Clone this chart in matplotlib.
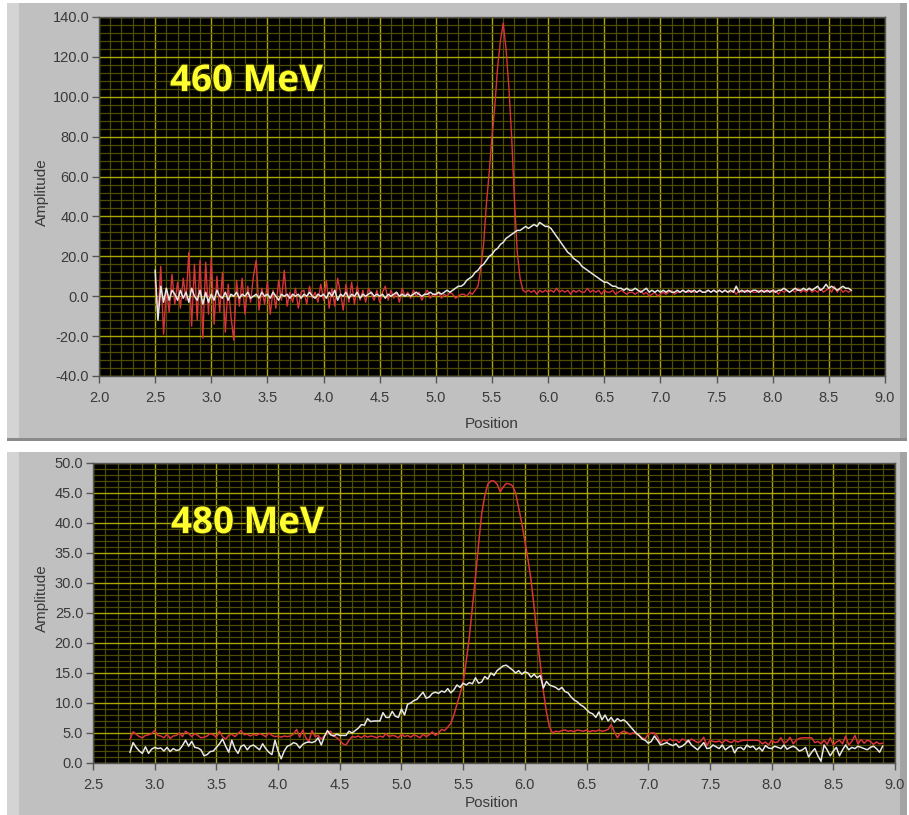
import numpy as np
import matplotlib
matplotlib.use("Agg")
import matplotlib.pyplot as plt
import matplotlib.patheffects as pe
from matplotlib.patches import Rectangle
from matplotlib.ticker import MultipleLocator, FormatStrFormatter

W, H = 909, 815

# ─────────────────────────────────────────────────────────────────────────────
# DATA  (uniform sampling in position)
# ─────────────────────────────────────────────────────────────────────────────

TOP_X0, TOP_DX = 2.5, 0.025          # 2.500 … 8.700
TOP_RED = [
    8, -10, 15, -19, 4, -8, 11, -4, 7, -6,
    9, -2, 22, -15, 16, -12, 18, -21, 17, -9,
    19, -14, 10, -8, 12, -18, 6, -10, -22, 8,
    -5, 9, -9, 5, -3, 10, 18, -7, 4, -4,
    7, -9, 3, -6, 8, -2, 13, -5, 2, -3,
    4, -6, 2, 3, -4, 5, -1, 2, -3, 6,
    -2, 8, -6, 4, -5, 9, 2, -7, 6, -3,
    7, -4, 5, -2, 3, -3, 4, 1, -2, 3,
    -3, 2, 5, -2, 3, -1, 2, -3, 4, 0,
    2, -1, 3, 0, 2, -2, 1, 3, -1, 1,
    0, 2, -1, 1, 0, 2, 1, -1, 0, 1,
    1, 0, 2, 1, 3, 5, 14, 26, 46, 62,
    80, 95, 115, 128, 137, 124, 105, 80, 48, 22,
    9, 3, 2, 3, 2, 3, 1, 3, 2, 3,
    2, 3, 2, 4, 2, 3, 2, 3, 1, 3,
    2, 3, 2, 2, 4, 2, 3, 2, 3, 1,
    3, 2, 2, 3, 1, 2, 3, 2, 1, 2,
    2, 1, 2, 3, 1, 2, 0, 1, 2, 0,
    1, 2, 1, 2, 3, 1, 2, 2, 3, 2,
    2, 3, 2, 2, 3, 2, 2, 3, 2, 3,
    2, 3, 2, 3, 2, 2, 3, 1, 3, 2,
    3, 2, 3, 2, 2, 3, 2, 3, 2, 3,
    2, 3, 1, 3, 2, 3, 2, 3, 2, 4,
    2, 3, 2, 4, 2, 3, 2, 4, 2, 3,
    4, 2, 5, 2, 4, 2, 3, 2, 3,
]
TOP_WHITE = [
    13, -12, 5, -3, 4, -2, 3, 1, -2, 3,
    -1, 2, -3, 4, 0, -2, 3, -4, 2, -3,
    1, -2, 3, 0, -1, 2, -2, 1, 0, 2,
    -1, 1, 0, 2, -1, 0, 1, -1, 2, 0,
    1, -1, 2, 0, -2, 1, 0, 1, -1, 1,
    0, 1, -1, 1, 0, 2, 0, -1, 1, 0,
    1, -1, 2, 0, 3, -2, 1, 0, 2, -1,
    1, 0, 2, -1, 1, 0, 1, 2, 0, 1,
    0, 1, -1, 1, 0, 1, 2, 0, 1, 0,
    1, 0, 1, 2, 1, 0, 1, 1, 2, 1,
    1, 2, 1, 2, 3, 2, 3, 4, 5, 5,
    6, 8, 9, 10, 12, 13, 15, 16, 18, 20,
    21, 23, 24, 26, 27, 29, 30, 31, 32, 33,
    33, 34, 35, 34, 35, 36, 35, 37, 36, 35,
    35, 34, 32, 30, 28, 26, 24, 22, 21, 19,
    18, 17, 15, 14, 13, 12, 11, 10, 9, 8,
    7, 7, 6, 5, 5, 4, 4, 3, 4, 3,
    3, 4, 3, 2, 3, 4, 2, 3, 2, 3,
    2, 3, 2, 3, 2, 2, 3, 2, 3, 2,
    3, 2, 3, 2, 3, 2, 2, 3, 2, 3,
    2, 3, 2, 3, 2, 3, 2, 5, 2, 3,
    2, 3, 2, 3, 3, 2, 3, 2, 3, 2,
    3, 2, 3, 3, 4, 3, 2, 3, 4, 3,
    3, 4, 3, 4, 3, 4, 5, 3, 4, 6,
    4, 5, 4, 3, 4, 5, 4, 4, 3,
]

BOT_X0, BOT_DX = 2.8, 0.025          # 2.800 … 8.900
BOT_RED = [
    4.0, 5.2, 4.8, 4.4, 4.2, 4.6, 4.7, 4.9, 5.4, 4.6,
    4.5, 4.2, 4.8, 4.1, 4.5, 4.6, 5.0, 4.4, 5.3, 4.9,
    4.4, 4.9, 4.6, 4.2, 4.3, 4.5, 4.9, 4.7, 4.3, 5.3,
    4.4, 4.0, 4.6, 4.8, 4.4, 4.9, 5.4, 4.7, 4.8, 4.5,
    4.8, 4.6, 4.9, 4.7, 4.4, 5.0, 4.6, 4.4, 4.5, 4.3,
    4.5, 4.4, 4.5, 4.8, 5.6, 4.3, 5.5, 4.2, 3.6, 5.4,
    4.4, 4.6, 4.0, 4.5, 5.0, 5.3, 4.6, 4.2, 3.8, 3.2,
    3.0, 3.8, 4.4, 4.3, 4.5, 4.2, 4.6, 4.3, 4.5, 4.4,
    4.2, 4.5, 4.3, 4.9, 4.4, 4.6, 4.5, 4.2, 4.8, 4.4,
    4.6, 4.3, 4.7, 4.5, 4.2, 4.8, 4.4, 4.7, 5.2, 4.6,
    5.0, 5.6, 5.4, 6.0, 6.6, 8.0, 9.8, 11.5, 13.5, 17.0,
    21.0, 26.0, 31.0, 36.5, 41.5, 44.5, 46.5, 47.0, 47.0, 46.5,
    45.2, 46.0, 46.6, 46.5, 46.2, 45.0, 42.5, 40.0, 37.0, 34.0,
    30.5, 26.0, 21.0, 16.5, 12.0, 8.5, 6.0, 5.0, 5.3, 5.2,
    5.4, 5.5, 5.3, 5.4, 5.2, 5.5, 5.4, 5.3, 5.5, 5.2,
    5.4, 5.3, 5.5, 5.3, 5.4, 5.6, 6.4, 5.2, 4.2, 5.0,
    5.3, 5.1, 4.8, 5.0, 4.9, 4.6, 4.2, 4.0, 4.8, 5.0,
    5.0, 4.4, 3.4, 3.9, 3.6, 4.0, 3.7, 3.9, 3.4, 4.0,
    3.8, 3.5, 4.0, 3.7, 3.4, 3.6, 4.3, 2.9, 3.8, 3.6,
    3.5, 3.7, 3.3, 3.9, 3.6, 3.4, 3.8, 3.5, 3.7, 3.8,
    3.8, 3.8, 3.8, 3.8, 3.7, 3.2, 3.5, 3.0, 3.8, 3.4,
    3.5, 4.2, 3.3, 3.6, 4.3, 3.2, 3.8, 4.1, 4.2, 4.2,
    4.2, 4.2, 3.4, 3.6, 3.2, 3.8, 3.1, 4.2, 3.0, 3.5,
    3.8, 3.2, 4.5, 3.0, 3.6, 4.6, 3.2, 3.9, 3.3, 3.8,
    3.6, 3.1, 3.5, 3.2, 3.3,
]
BOT_WHITE = [
    1.8, 3.4, 2.6, 2.0, 1.6, 2.7, 1.6, 2.3, 2.6, 2.4,
    2.5, 2.0, 2.6, 1.9, 2.4, 2.1, 2.2, 2.9, 3.8, 2.8,
    3.6, 2.6, 2.5, 2.2, 1.2, 1.4, 1.9, 2.0, 2.6, 3.2,
    4.0, 2.8, 1.8, 3.8, 2.4, 1.6, 2.8, 3.0, 2.2, 2.8,
    3.0, 2.6, 2.2, 3.2, 2.4, 1.8, 1.4, 3.8, 2.0, 0.7,
    2.0, 2.8, 3.0, 3.4, 3.2, 2.5, 3.1, 3.4, 3.5, 3.4,
    3.6, 4.2, 3.0, 4.4, 5.4, 4.7, 4.5, 4.8, 4.6, 4.6,
    4.6, 5.3, 5.0, 5.4, 5.8, 6.4, 6.3, 7.4, 6.9, 7.0,
    7.0, 7.0, 8.4, 7.6, 7.6, 8.6, 7.8, 7.6, 9.0, 8.0,
    9.8, 10.0, 10.4, 10.6, 11.2, 11.8, 10.8, 11.0, 11.6, 11.8,
    11.6, 12.0, 11.8, 12.4, 11.7, 12.2, 13.0, 12.6, 13.3, 13.0,
    13.4, 13.2, 14.2, 13.3, 13.5, 14.4, 14.0, 15.0, 14.6, 15.4,
    15.8, 16.2, 16.3, 15.9, 15.5, 15.0, 15.4, 14.8, 15.2, 15.0,
    14.3, 14.8, 14.2, 14.6, 12.5, 13.6, 13.0, 12.8, 12.6, 12.2,
    12.6, 11.9, 11.7, 11.0, 10.5, 10.2, 9.7, 9.4, 8.9, 8.4,
    8.2, 7.6, 8.5, 7.2, 8.0, 7.0, 7.6, 6.8, 7.4, 7.0,
    7.2, 6.8, 6.2, 5.6, 5.0, 4.6, 4.0, 3.8, 3.3, 3.6,
    4.5, 3.8, 3.0, 3.2, 3.4, 3.1, 2.9, 3.2, 2.6, 2.8,
    3.2, 3.8, 3.0, 2.6, 2.2, 2.8, 3.4, 2.4, 2.5, 3.0,
    2.7, 2.4, 3.0, 2.2, 2.6, 2.9, 1.7, 2.5, 2.6, 2.2,
    3.0, 2.6, 2.8, 2.2, 2.6, 2.0, 2.9, 2.5, 2.4, 2.8,
    2.6, 2.4, 3.0, 2.3, 2.6, 2.8, 2.5, 2.0, 2.2, 2.6,
    1.0, 1.8, 2.4, 1.2, 0.3, 3.0, 2.2, 1.2, 2.0, 2.6,
    1.2, 2.2, 3.0, 2.2, 2.6, 2.4, 2.8, 2.6, 2.4, 2.2,
    2.6, 2.8, 2.4, 1.8, 2.8,
]

LABELS = ["460 MeV", "480 MeV"]

# ─────────────────────────────────────────────────────────────────────────────
# STYLE
# ─────────────────────────────────────────────────────────────────────────────

FRAME   = "#c0c0c0"
RED     = "#d8343a"
WHITE   = "#e6e6e6"
MAJ_GRD = "#aaa800"
MIN_GRD = "#4e4d00"
TXT     = "#3a3a3a"
TICK_FONT = ["Liberation Sans", "DejaVu Sans"]
LAB_FONT  = ["Liberation Sans", "DejaVu Sans"]


def px_rect(fig, x0, y0, x1, y1, color, z=-2):
    fig.add_artist(Rectangle((x0 / W, 1 - y1 / H), (x1 - x0) / W,
                             (y1 - y0) / H, transform=fig.transFigure,
                             facecolor=color, edgecolor="none", zorder=z))


def px_axes(fig, x0, y0, x1, y1):
    return fig.add_axes([x0 / W, 1 - y1 / H, (x1 - x0) / W, (y1 - y0) / H])


def frame(fig, y0, y1, bottom_edge=True):
    px_rect(fig, 7, y0, 907, y1, FRAME)
    px_rect(fig, 7, y0, 19, y1, "#d4d4d4", z=-1.5)
    px_rect(fig, 900, y0, 907, y1, "#a4a4a4", z=-1.5)
    if bottom_edge:
        px_rect(fig, 7, y1 - 3, 907, y1, "#8a8a8a", z=-1.4)


def style_axes(ax, xlim, ylim, xmaj, ymaj, ymin):
    ax.set_facecolor("black")
    ax.set_xlim(xlim); ax.set_ylim(ylim)
    ax.xaxis.set_major_locator(MultipleLocator(xmaj))
    ax.xaxis.set_minor_locator(MultipleLocator(0.1))
    ax.yaxis.set_major_locator(MultipleLocator(ymaj))
    ax.yaxis.set_minor_locator(MultipleLocator(ymin))
    ax.xaxis.set_major_formatter(FormatStrFormatter("%.1f"))
    ax.yaxis.set_major_formatter(FormatStrFormatter("%.1f"))
    ax.grid(True, which="minor", color=MIN_GRD, lw=0.9)
    ax.grid(True, which="major", color=MAJ_GRD, lw=1.0)
    ax.set_axisbelow(True)
    ax.tick_params(which="minor", length=0)
    ax.tick_params(which="major", length=5, width=1, color="#555555",
                   labelcolor=TXT, labelsize=10.5)
    ax.tick_params(axis="x", pad=6)
    ax.tick_params(axis="y", pad=2)
    for lab in ax.get_xticklabels() + ax.get_yticklabels():
        lab.set_family(TICK_FONT)
    for s in ax.spines.values():
        s.set_color("#555555"); s.set_linewidth(1.0)


def label(fig, text, x, y, px_y, xlab):
    fig.text(42 / W, 1 - px_y / H, "Amplitude", rotation=90, ha="center",
             va="center", fontsize=11, color=TXT, family=LAB_FONT)
    fig.text(492 / W, 1 - xlab / H, "Position", ha="center", va="center",
             fontsize=11, color=TXT, family=LAB_FONT)
    fig.text(x / W, 1 - y / H, text, ha="left", va="baseline",
             fontsize=26.5, fontweight="bold", color="#ffff30",
             family=["Open Sans", "DejaVu Sans"],
             path_effects=[pe.withStroke(linewidth=1.5, foreground="#303000")])


# ─────────────────────────────────────────────────────────────────────────────
# FIGURE
# ─────────────────────────────────────────────────────────────────────────────

fig = plt.figure(figsize=(W / 100, H / 100), dpi=100)
fig.patch.set_facecolor("white")

frame(fig, 3, 441)
frame(fig, 452, 815, bottom_edge=False)

# ── 460 MeV ─────────────────────────────────────────────────────────────────
ax1 = px_axes(fig, 99, 17, 885, 376)
style_axes(ax1, (2.0, 9.0), (-40, 140), 0.5, 20, 4)
xt = TOP_X0 + TOP_DX * np.arange(len(TOP_RED))
ax1.plot(xt, TOP_RED, color=RED, lw=1.0, zorder=3)
ax1.plot(xt, TOP_WHITE, color=WHITE, lw=1.1, zorder=4)
label(fig, LABELS[0], 170, 91, 192, 424)

# ── 480 MeV ─────────────────────────────────────────────────────────────────
ax2 = px_axes(fig, 93, 463, 895, 763)
style_axes(ax2, (2.5, 9.0), (0, 50), 0.5, 5, 1)
xb = BOT_X0 + BOT_DX * np.arange(len(BOT_RED))
ax2.plot(xb, BOT_RED, color=RED, lw=1.1, zorder=3)
ax2.plot(xb, BOT_WHITE, color=WHITE, lw=1.1, zorder=4)
label(fig, LABELS[1], 171, 533, 598, 803)

fig.savefig("out.png", dpi=100)
